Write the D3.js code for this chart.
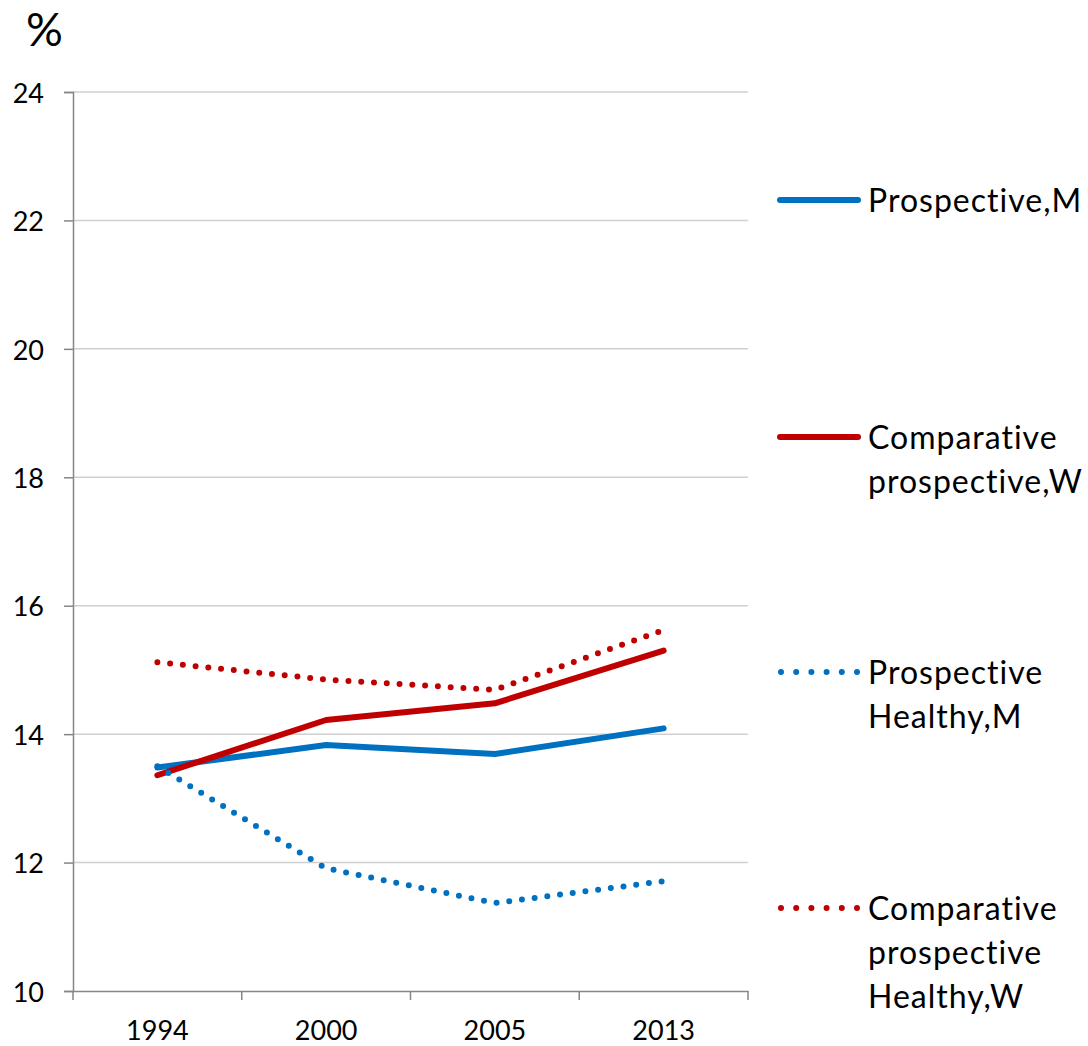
<!DOCTYPE html>
<html><head><meta charset="utf-8">
<script src="https://cdn.jsdelivr.net/npm/d3@7"></script>
<style>body{margin:0;background:#fff;}svg{display:block;font-family:Lato,"Open Sans",sans-serif;}</style>
</head><body>
<svg id="c" width="1088" height="1046"></svg>
<script>
const years = ["1994","2000","2005","2013"];
const prospectiveM = [13.48, 13.83, 13.69, 14.09];
const compProspectiveW = [13.36, 14.22, 14.48, 15.30];
const prospectiveHealthyM = [13.50, 11.91, 11.37, 11.71];
const compProspectiveHealthyW = [15.12, 14.85, 14.69, 15.62];
const yTicks = [10,12,14,16,18,20,22,24];
const seriesNames = [["Prospective,M"],["Comparative","prospective,W"],["Prospective","Healthy,M"],["Comparative","prospective","Healthy,W"]];

const blue = "#0070C0", red = "#C00000";
const series = [
  {vals: prospectiveM, color: blue, dotted: false},
  {vals: compProspectiveW, color: red, dotted: false},
  {vals: prospectiveHealthyM, color: blue, dotted: true},
  {vals: compProspectiveHealthyW, color: red, dotted: true}
];

const svg = d3.select("#c");
const L = 73, R = 748, T = 92, B = 991;
const x = d3.scaleBand().domain(years).range([L, R]);
const y = d3.scaleLinear().domain([10, 24]).range([B, T]);

// gridlines
svg.append("g").selectAll("line").data(yTicks.filter(d => d > 10)).join("line")
  .attr("x1", L).attr("x2", R).attr("y1", d => y(d)).attr("y2", d => y(d))
  .attr("stroke", "#d0d0d0").attr("stroke-width", 1.5);

// y axis
const ya = svg.append("g").attr("transform", `translate(${L},0)`)
  .call(d3.axisLeft(y).tickValues(yTicks).tickSize(9).tickPadding(20));
ya.select(".domain").attr("stroke", "#868686").attr("stroke-width", 1.5);
ya.selectAll(".tick line").attr("stroke", "#868686").attr("stroke-width", 1.5);
ya.selectAll(".tick text").attr("font-size", 27).attr("fill", "#000").attr("font-family", "Lato").attr("dy", "0.38em");

// x axis
const xa = svg.append("g").attr("transform", `translate(0,${B})`)
  .call(d3.axisBottom(x).tickSize(0).tickPadding(30));
xa.select(".domain").attr("stroke", "#868686").attr("stroke-width", 1.5);
xa.selectAll(".tick text").attr("font-size", 27).attr("fill", "#000").attr("font-family", "Lato");
const bounds = years.map(d => x(d)).concat([R]);
svg.append("g").selectAll("line").data(bounds).join("line")
  .attr("x1", d => d).attr("x2", d => d).attr("y1", B).attr("y2", B + 9)
  .attr("stroke", "#868686").attr("stroke-width", 1.5);

// % label
svg.append("text").attr("x", 26).attr("y", 46).attr("font-size", 46).attr("font-family", "Lato").text("%");

// lines
const line = d3.line().x((d, i) => x(years[i]) + x.bandwidth() / 2).y(d => y(d));
series.forEach(s => {
  const p = svg.append("path").datum(s.vals).attr("d", line).attr("fill", "none")
    .attr("stroke", s.color);
  if (s.dotted) {
    p.attr("stroke-width", 6).attr("stroke-linecap", "round").attr("stroke-dasharray", "0 12.8");
  } else {
    p.attr("stroke-width", 6).attr("stroke-linejoin", "round").attr("stroke-linecap", "round");
  }
});

// legend
const legY = [200, 437, 672, 908];
series.forEach((s, i) => {
  const g = svg.append("g");
  const ly = legY[i];
  const l = g.append("line").attr("x1", 780).attr("x2", 858).attr("y1", ly).attr("y2", ly)
    .attr("stroke", s.color).attr("stroke-width", 6).attr("stroke-linecap", "round");
  if (s.dotted) l.attr("stroke-dasharray", "0 15.2").attr("x1", 781).attr("x2", 857);
  seriesNames[i].forEach((t, j) => {
    g.append("text").attr("x", 868).attr("y", ly + j * 44).attr("dy", "0.36em")
      .attr("font-size", 32).attr("letter-spacing", 1).attr("font-family", "Lato").text(t);
  });
});
</script>
</body></html>
